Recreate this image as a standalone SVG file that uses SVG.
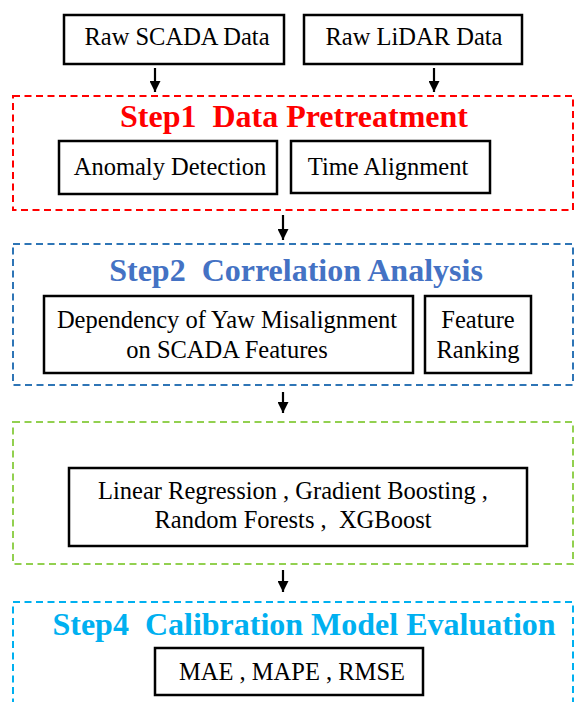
<svg xmlns="http://www.w3.org/2000/svg" width="574" height="702" viewBox="0 0 574 702">
<defs>
<style>
.box{fill:#fff;stroke:#000;stroke-width:2.5}
.frame{fill:none;stroke-width:2;stroke-dasharray:7 4.5}
.t{font-family:"Liberation Serif","Times New Roman",serif;font-size:24.5px;fill:#000;text-anchor:middle}
.h{font-family:"Liberation Serif","Times New Roman",serif;font-size:32px;font-weight:bold;text-anchor:middle}
.arr{stroke:#000;stroke-width:2.2;fill:none}
</style>
<marker id="ah" viewBox="0 0 10 10" refX="10" refY="5" markerWidth="11" markerHeight="11" markerUnits="userSpaceOnUse" orient="auto">
<path d="M0,0 L10,5 L0,10 z" fill="#000"/>
</marker>
</defs>
<rect width="574" height="702" fill="#fff"/>

<g id="step1">
<rect class="frame" x="13" y="96" width="560" height="114" stroke="#FF0000"/>
<text class="h" x="294" y="127" fill="#FF0000" xml:space="preserve">Step1  Data Pretreatment</text>
</g>
<g id="step2">
<rect class="frame" x="13" y="244" width="560" height="141" stroke="#2E75B6"/>
<text class="h" x="296" y="281" fill="#4472C4" xml:space="preserve">Step2  Correlation Analysis</text>
</g>
<g id="step3">
<rect class="frame" x="13" y="422" width="560" height="142" stroke="#92D050"/>
</g>
<g id="step4">
<rect class="frame" x="13" y="602" width="560" height="130" stroke="#00B0F0"/>
<text class="h" x="304" y="635" fill="#00B0F0" xml:space="preserve">Step4  Calibration Model Evaluation</text>
</g>

<g id="raw-scada">
<rect class="box" x="64" y="15" width="220" height="49"/>
<text class="t" x="177" y="45">Raw SCADA Data</text>
</g>
<g id="raw-lidar">
<rect class="box" x="304" y="15" width="218" height="49"/>
<text class="t" x="414" y="45">Raw LiDAR Data</text>
</g>
<g id="anomaly">
<rect class="box" x="59" y="141" width="218" height="53"/>
<text class="t" x="170" y="175">Anomaly Detection</text>
</g>
<g id="time-align">
<rect class="box" x="291" y="141" width="199" height="52"/>
<text class="t" x="388" y="175">Time Alignment</text>
</g>
<g id="dependency">
<rect class="box" x="44" y="296" width="369" height="77"/>
<text class="t" x="227" y="328">Dependency of Yaw Misalignment</text>
<text class="t" x="227" y="358">on SCADA Features</text>
</g>
<g id="feature-ranking">
<rect class="box" x="425" y="296" width="106" height="77"/>
<text class="t" x="478" y="328">Feature</text>
<text class="t" x="478" y="358">Ranking</text>
</g>
<g id="models">
<rect class="box" x="69" y="468" width="458" height="78"/>
<text class="t" x="293" y="499">Linear Regression , Gradient Boosting ,</text>
<text class="t" x="293" y="528" xml:space="preserve">Random Forests ,  XGBoost</text>
</g>
<g id="metrics">
<rect class="box" x="155" y="648" width="268" height="47"/>
<text class="t" x="292" y="680">MAE , MAPE , RMSE</text>
</g>

<g id="connectors">
<line class="arr" x1="155" y1="68" x2="155" y2="92" marker-end="url(#ah)"/>
<line class="arr" x1="434" y1="68" x2="434" y2="92" marker-end="url(#ah)"/>
<line class="arr" x1="283" y1="215" x2="283" y2="240" marker-end="url(#ah)"/>
<line class="arr" x1="283" y1="392" x2="283" y2="413" marker-end="url(#ah)"/>
<line class="arr" x1="283" y1="570" x2="283" y2="592" marker-end="url(#ah)"/>
</g>
</svg>
